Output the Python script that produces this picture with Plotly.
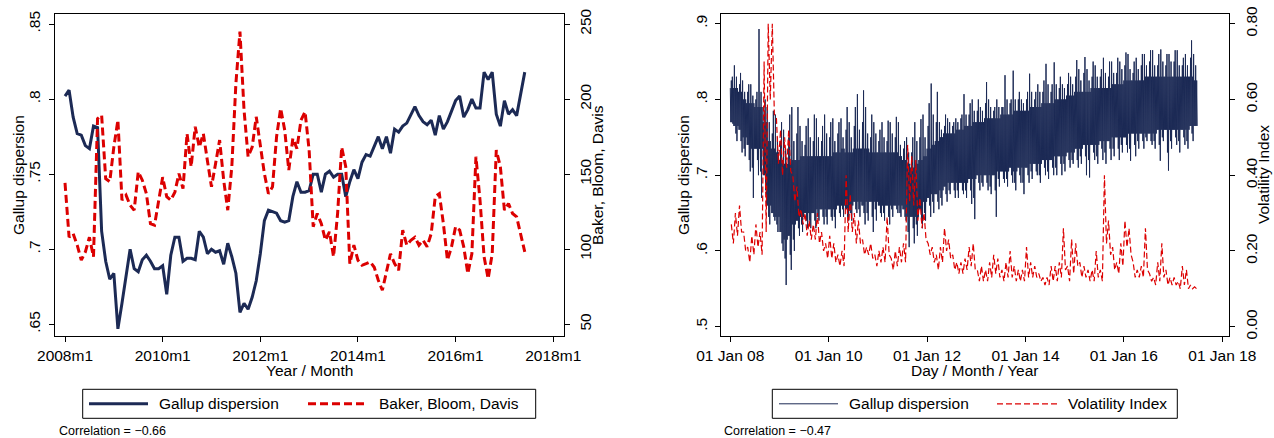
import plotly.graph_objects as go

# ---------------- Left panel: monthly series, 2008m1 .. 2017m6 ----------------
gallup_monthly = [
    .802, .806, .788, .777, .776, .769, .767, .782, .781, .712, .692, .680,
    .684, .647, .664, .682, .700, .687, .685, .693, .696, .692, .687, .687,
    .689, .670, .696, .708, .708, .692, .694, .694, .693, .712, .708, .697,
    .700, .698, .699, .690, .704, .695, .684, .658, .664, .660, .668, .679,
    .697, .719, .726, .725, .724, .719, .718, .719, .735, .745, .738, .738,
    .739, .750, .750, .738, .750, .752, .748, .750, .750, .735, .745, .753,
    .747, .758, .763, .762, .768, .775, .767, .775, .764, .780, .778, .782,
    .784, .790, .795, .789, .785, .783, .786, .776, .789, .780, .785, .792,
    .799, .802, .788, .793, .800, .794, .794, .818, .813, .818, .790, .782,
    .799, .790, .793, .789, .803, .818,
]
bbd_monthly = [
    144.2, 108, 110.4, 102.7, 92.7, 98.2, 108, 95, 187, 189.3, 147, 145,
    168, 186, 132.7, 136, 129.3, 126, 151.6, 146, 137, 117, 116, 132.7,
    148, 135, 132.7, 138, 150.4, 140.4, 177, 155, 181.6, 168, 177, 159,
    141.6, 157, 172.7, 146, 126, 155, 210.4, 245, 192.7, 161.6, 168, 188.2,
    170.4, 150.4, 137, 141.6, 175, 193.8, 179.3, 152.7, 173.8, 167, 186, 191.6,
    166, 115, 123.8, 117, 106, 111.6, 95, 123.8, 168, 155, 90.4, 102.7,
    92.7, 89.3, 90.4, 91.6, 88, 79.3, 72.7, 83.8, 97, 90.4, 86, 112.7,
    102.7, 106, 108, 102.7, 106, 101.6, 110.4, 135, 137, 117, 92.7, 101.6,
    115, 112.7, 101.6, 83.8, 97, 161.6, 132.7, 95, 80.4, 97, 166, 155,
    126, 130.4, 123.8, 121.6, 110.4, 98.2,
]

# ---------------- Right panel: daily series, read per month ----------------
# Gallup daily: dense core band (upper / lower), secondary spikes, extreme spikes
gd_core_hi = [
    .815, .815, .81, .80, .795, .795, .79, .79, .77, .745, .735, .73,
    .72, .715, .715, .72, .72, .725, .725, .725, .725, .725, .725, .725,
    .725, .73, .73, .735, .73, .73, .735, .735, .735, .735, .73, .73,
    .73, .73, .73, .73, .73, .725, .72, .715, .71, .715, .72, .725,
    .735, .74, .745, .75, .755, .755, .755, .76, .76, .765, .765, .77,
    .77, .77, .775, .775, .775, .775, .78, .78, .78, .785, .785, .785,
    .785, .79, .79, .79, .795, .795, .795, .80, .80, .80, .805, .805,
    .81, .81, .81, .81, .815, .815, .815, .815, .815, .82, .82, .82,
    .825, .825, .825, .825, .825, .83, .83, .83, .83, .83, .83, .83,
    .83, .83, .83, .83, .83, .825,
]
gd_core_lo = [
    .77, .765, .76, .75, .74, .735, .735, .735, .70, .66, .65, .645,
    .625, .615, .62, .635, .64, .645, .65, .65, .65, .655, .655, .655,
    .655, .655, .66, .66, .655, .66, .665, .665, .66, .665, .665, .665,
    .66, .66, .66, .66, .66, .66, .655, .645, .645, .645, .655, .665,
    .67, .675, .675, .68, .685, .69, .69, .69, .69, .69, .695, .695,
    .70, .70, .70, .70, .70, .705, .705, .705, .71, .705, .71, .71,
    .71, .715, .715, .715, .72, .72, .72, .725, .725, .725, .73, .73,
    .735, .735, .74, .74, .74, .74, .745, .745, .745, .75, .75, .75,
    .75, .755, .755, .755, .755, .755, .755, .755, .76, .76, .76, .76,
    .76, .76, .76, .76, .765, .765,
]
gd_mid_hi = [
    .825, .83, .82, .81, .81, .805, .80, .81, .785, .77, .755, .75,
    .745, .735, .75, .745, .755, .745, .74, .75, .745, .75, .745, .755,
    .75, .745, .755, .75, .76, .75, .765, .76, .77, .755, .75, .755,
    .745, .75, .745, .755, .75, .74, .735, .73, .73, .745, .75, .75,
    .765, .78, .77, .76, .765, .77, .765, .77, .775, .78, .78, .785,
    .785, .785, .795, .79, .785, .79, .79, .80, .795, .80, .80, .795,
    .80, .81, .80, .81, .81, .82, .81, .82, .815, .815, .82, .82,
    .83, .825, .835, .825, .83, .83, .83, .835, .83, .835, .835, .84,
    .845, .84, .835, .84, .845, .845, .85, .845, .845, .85, .845, .85,
    .85, .845, .845, .845, .855, .845,
]
gd_mid_lo = [
    .768, .755, .745, .735, .72, .71, .72, .705, .68, .645, .645, .635,
    .61, .59, .595, .615, .63, .635, .64, .64, .64, .645, .645, .645,
    .645, .645, .65, .655, .645, .65, .655, .655, .65, .65, .645, .655,
    .65, .65, .645, .655, .655, .65, .645, .625, .63, .635, .64, .65,
    .66, .665, .665, .67, .675, .68, .68, .68, .68, .68, .68, .67,
    .69, .69, .69, .685, .68, .695, .695, .695, .70, .69, .70, .69,
    .70, .705, .705, .70, .71, .705, .71, .71, .715, .715, .72, .72,
    .72, .725, .725, .72, .73, .725, .735, .73, .735, .735, .735, .74,
    .74, .735, .74, .745, .745, .75, .745, .745, .74, .75, .73, .745,
    .75, .745, .75, .745, .755, .765,
]
gd_spike_hi = [
    .83, .845, .835, .825, .82, .82, .81, .893, .80, .79, .785, .78,
    .77, .76, .78, .79, .79, .765, .765, .775, .78, .775, .765, .78,
    .77, .775, .77, .775, .79, .77, .79, .807, .812, .79, .78, .77,
    .76, .77, .772, .77, .777, .77, .745, .75, .75, .77, .774, .78,
    .795, .821, .81, .77, .78, .775, .77, .775, .78, .807, .795, .80,
    .80, .79, .823, .80, .79, .80, .79, .832, .80, .838, .81, .80,
    .81, .834, .81, .82, .825, .847, .82, .849, .83, .82, .835, .83,
    .852, .84, .856, .84, .85, .845, .84, .855, .85, .85, .855, .85,
    .862, .86, .85, .855, .86, .86, .865, .865, .86, .866, .86, .86,
    .865, .865, .855, .86, .878, .86,
]
gd_spike_lo = [
    .765, .745, .73, .725, .705, .67, .70, .67, .66, .635, .64, .625,
    .60, .555, .575, .60, .62, .625, .63, .63, .63, .64, .635, .635,
    .64, .63, .645, .645, .64, .64, .65, .645, .635, .64, .625, .64,
    .645, .64, .635, .645, .65, .645, .64, .605, .61, .62, .63, .64,
    .645, .65, .655, .66, .665, .675, .67, .67, .675, .67, .662, .642,
    .68, .685, .68, .675, .645, .685, .69, .685, .69, .68, .69, .675,
    .69, .695, .70, .69, .70, .695, .70, .70, .70, .705, .71, .715,
    .71, .715, .70, .697, .72, .715, .72, .715, .72, .725, .72, .73,
    .73, .719, .725, .735, .735, .745, .74, .735, .719, .745, .706, .735,
    .74, .73, .74, .735, .745, .765,
]
# Volatility index: monthly high / low of the daily line
vix_hi = [
    .27, .30, .32, .25, .21, .24, .27, .25, .70, .80, .80, .55,
    .52, .50, .52, .40, .37, .31, .30, .28, .27, .30, .25, .22,
    .24, .22, .19, .20, .40, .35, .30, .28, .23, .21, .22, .19,
    .20, .21, .29, .18, .20, .21, .22, .48, .45, .44, .34, .30,
    .22, .21, .19, .21, .26, .23, .19, .17, .17, .18, .21, .22,
    .15, .16, .15, .17, .19, .18, .15, .17, .20, .16, .15, .15,
    .21, .17, .16, .14, .13, .13, .16, .16, .17, .26, .16, .23,
    .22, .17, .16, .15, .15, .20, .15, .40, .28, .21, .17, .22,
    .28, .26, .17, .15, .16, .26, .14, .13, .17, .22, .15, .13,
    .13, .12, .16, .15, .11, .105,
]
vix_lo = [
    .22, .24, .25, .20, .17, .19, .21, .19, .25, .60, .56, .43,
    .40, .42, .41, .33, .29, .27, .24, .23, .23, .22, .20, .18,
    .18, .17, .16, .16, .25, .25, .22, .22, .19, .19, .18, .16,
    .17, .17, .19, .15, .16, .17, .17, .33, .32, .28, .26, .23,
    .19, .17, .15, .17, .20, .18, .15, .14, .14, .15, .16, .15,
    .12, .12, .12, .13, .14, .13, .12, .13, .13, .12, .12, .12,
    .13, .13, .13, .12, .11, .11, .12, .12, .13, .15, .12, .14,
    .16, .13, .13, .12, .12, .13, .12, .22, .19, .15, .14, .16,
    .21, .19, .13, .13, .13, .15, .12, .11, .12, .13, .11, .11,
    .11, .10, .11, .10, .10, .10,
]

# ---------------- Tick labels ----------------
left_xticks = [2008, 2010, 2012, 2014, 2016, 2018]
left_xlabels = ["2008m1", "2010m1", "2012m1", "2014m1", "2016m1", "2018m1"]
left_yticks = [.65, .7, .75, .8, .85]
left_ylabels = [".65", ".7", ".75", ".8", ".85"]
left_y2ticks = [50, 100, 150, 200, 250]
left_y2labels = ["50", "100", "150", "200", "250"]
right_xticks = [2008, 2010, 2012, 2014, 2016, 2018]
right_xlabels = ["01 Jan 08", "01 Jan 10", "01 Jan 12", "01 Jan 14", "01 Jan 16", "01 Jan 18"]
right_yticks = [.5, .6, .7, .8, .9]
right_ylabels = [".5", ".6", ".7", ".8", ".9"]
right_y2ticks = [0, .2, .4, .6, .8]
right_y2labels = ["0.00", "0.20", "0.40", "0.60", "0.80"]

# ---------------- Build x positions ----------------
n = len(gallup_monthly)
x_month = [2008 + i / 12 for i in range(n)]

xd, yd = [], []
for i in range(len(gd_core_hi)):
    ch, cl = gd_core_hi[i], gd_core_lo[i]
    mh, ml = gd_mid_hi[i], gd_mid_lo[i]
    sh, sl = gd_spike_hi[i], gd_spike_lo[i]
    if i % 2 == 0:
        seq = [ch, cl, mh, cl, sh, ml, ch, sl]
    else:
        seq = [sh, cl, ch, ml, mh, sl, ch, cl]
    for k, v in enumerate(seq):
        xd.append(2008 + (i + k / len(seq)) / 12)
        yd.append(v)

xv, yv = [], []
for i in range(len(vix_hi)):
    for k, v in enumerate([vix_hi[i], vix_lo[i]]):
        xv.append(2008 + (i + 0.25 + k * 0.5) / 12)
        yv.append(v)

NAVY = "#1c2a55"
RED = "#dc0000"
FONT = "Liberation Sans, Arial, sans-serif"
W, H = 1274, 438


def px(x):
    return x / W


def py(y):
    return 1 - y / H


fig = go.Figure()
fig.add_trace(go.Scatter(x=x_month, y=gallup_monthly, xaxis="x", yaxis="y", mode="lines",
                         line=dict(color=NAVY, width=3), name="Gallup dispersion"))
fig.add_trace(go.Scatter(x=x_month, y=bbd_monthly, xaxis="x", yaxis="y2", mode="lines",
                         line=dict(color=RED, width=3, dash="8px,4px"), name="Baker, Bloom, Davis"))
fig.add_trace(go.Scatter(x=xd, y=yd, xaxis="x2", yaxis="y3", mode="lines",
                         line=dict(color=NAVY, width=1), name="Gallup dispersion"))
fig.add_trace(go.Scatter(x=xv, y=yv, xaxis="x2", yaxis="y4", mode="lines",
                         line=dict(color=RED, width=1.2, dash="6px,3px"), name="Volatility Index"))

tickfont = dict(family=FONT, size=15.5, color="black")
common_axis = dict(showgrid=False, zeroline=False, ticks="outside", ticklen=5, tickwidth=1,
                   tickcolor="black", tickfont=tickfont, tickmode="array", automargin=False)

ydom = [py(336), py(14)]
fig.update_layout(
    template="none",
    width=W, height=H,
    margin=dict(l=0, r=0, t=0, b=0, pad=0, autoexpand=False),
    paper_bgcolor="white", plot_bgcolor="white",
    showlegend=False,
    font=dict(family=FONT, color="black"),
    xaxis=dict(domain=[px(55), px(563.5)], range=[2007.795, 2018.21], anchor="y",
               tickvals=left_xticks, ticktext=left_xlabels,
               showline=True, mirror=True, linecolor="black", linewidth=1, **common_axis),
    yaxis=dict(domain=ydom, range=[0.6422, 0.8567], anchor="x",
               tickvals=left_yticks, ticktext=left_ylabels, tickangle=-90, ticklabelstandoff=3,
               showline=True, mirror=True, linecolor="black", linewidth=1, **common_axis),
    yaxis2=dict(overlaying="y", side="right", anchor="x", range=[42.2, 256.7],
                tickvals=left_y2ticks, ticktext=left_y2labels, tickangle=-90, ticklabelstandoff=3,
                showline=False, **common_axis),
    xaxis2=dict(domain=[px(720.7), px(1229)], range=[2007.805, 2018.136], anchor="y3",
                tickvals=right_xticks, ticktext=right_xlabels,
                showline=True, mirror=True, linecolor="black", linewidth=1, **common_axis),
    yaxis3=dict(domain=ydom, range=[0.4877, 0.9128], anchor="x2",
                tickvals=right_yticks, ticktext=right_ylabels, tickangle=-90, ticklabelstandoff=2,
                showline=True, mirror=True, linecolor="black", linewidth=1, **common_axis),
    yaxis4=dict(overlaying="y3", side="right", anchor="x2", range=[-0.0246, 0.8256],
                tickvals=right_y2ticks, ticktext=right_y2labels, tickangle=-90, ticklabelstandoff=3,
                showline=False, **common_axis),
)

ann = []


def text(x, y, s, size=15.5, angle=0, xanchor="center"):
    ann.append(dict(x=px(x), y=py(y), xref="paper", yref="paper", text=s, showarrow=False,
                    textangle=angle, xanchor=xanchor, yanchor="middle", borderpad=0,
                    font=dict(family=FONT, size=size, color="black")))


# axis titles
text(18, 175, "Gallup dispersion", angle=-90)
text(597, 175, "Baker, Bloom, Davis", angle=-90)
text(309, 370, "Year / Month")
text(683, 175, "Gallup dispersion", angle=-90)
text(1263, 175, "Volatility Index", angle=-90)
text(975, 370, "Day / Month / Year")
# legend labels
text(158, 403.8, "Gallup dispersion", xanchor="left")
text(378, 403.8, "Baker, Bloom, Davis", xanchor="left")
text(847.7, 403.8, "Gallup dispersion", xanchor="left")
text(1066.7, 403.8, "Volatility Index", xanchor="left")
# notes
text(58, 431, "Correlation = \u22120.66", size=12.5, xanchor="left")
text(723, 431, "Correlation = \u22120.47", size=12.5, xanchor="left")

shapes = []


def rect(x0, y0, x1, y1):
    shapes.append(dict(type="rect", xref="paper", yref="paper", x0=px(x0), x1=px(x1),
                       y0=py(y1), y1=py(y0), line=dict(color="black", width=1),
                       fillcolor="rgba(0,0,0,0)"))


def seg(x0, x1, y, color, width, dash="solid"):
    shapes.append(dict(type="line", xref="paper", yref="paper", x0=px(x0), x1=px(x1),
                       y0=py(y), y1=py(y), line=dict(color=color, width=width, dash=dash)))


rect(82.7, 389.3, 535.7, 418.3)
seg(89, 148, 403.8, NAVY, 3)
seg(308, 367, 403.8, RED, 3, "8px,4px")
rect(772.3, 389.3, 1177.3, 418.3)
seg(779, 838, 403.8, NAVY, 1)
seg(997, 1057, 403.8, RED, 1.2, "6px,3px")

fig.update_layout(annotations=ann, shapes=shapes)

fig.write_html("out.html", config={"displayModeBar": False},
               post_script="document.body.style.margin='0';")
